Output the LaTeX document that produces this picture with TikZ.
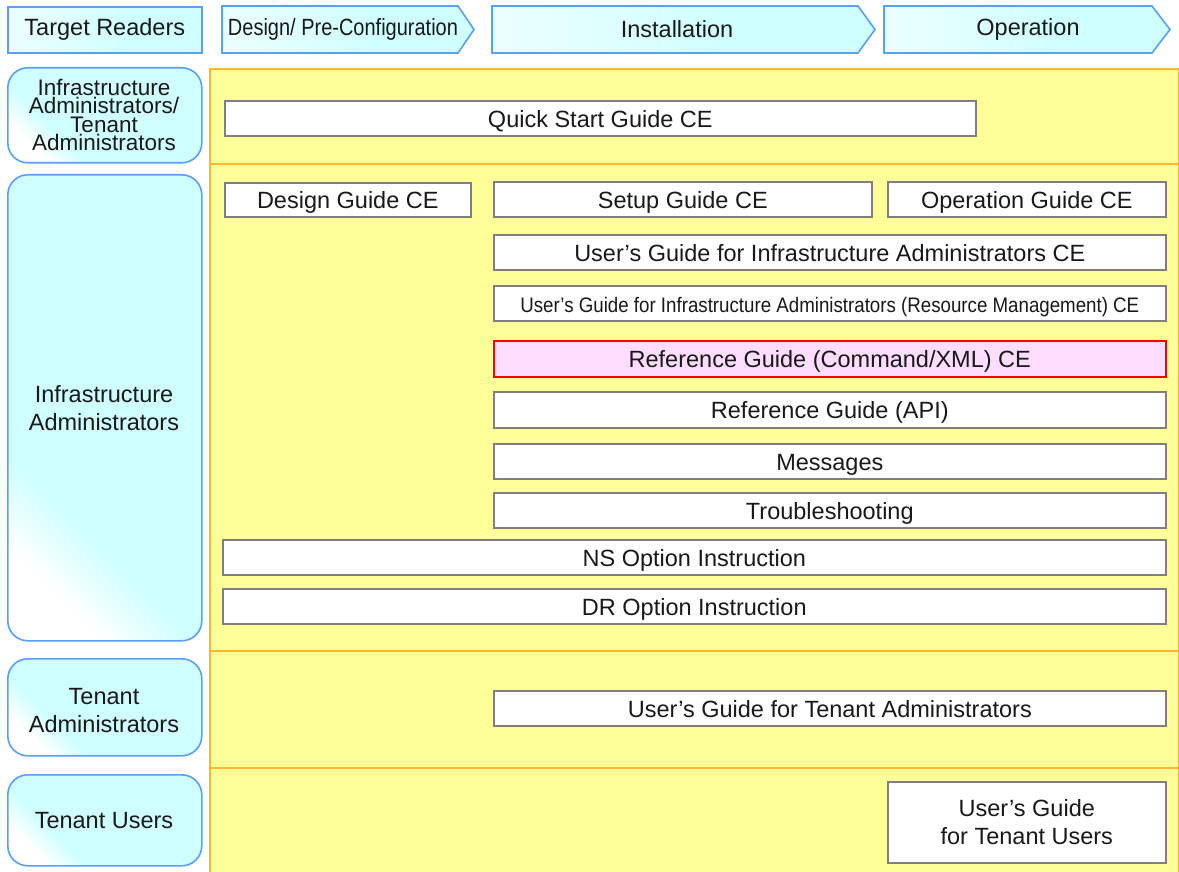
\documentclass[tikz,border=0pt]{standalone}
\usepackage{fontspec}
\setmainfont{Liberation Sans}
\usepackage{graphicx}
\definecolor{cyanL}{RGB}{208,255,255}
\definecolor{blueB}{RGB}{90,160,240}
\definecolor{yellowF}{RGB}{255,255,153}
\definecolor{orangeB}{RGB}{255,182,40}
\definecolor{grayB}{RGB}{128,128,128}
\definecolor{pinkF}{RGB}{255,221,255}
\definecolor{txt}{RGB}{25,25,25}
\pgfdeclarehorizontalshading{leftgrad}{100bp}{color(0bp)=(white); color(25bp)=(white); color(34bp)=(cyanL); color(100bp)=(cyanL)}
\pgfdeclarehorizontalshading{headgrad}{100bp}{color(0bp)=(white); color(25bp)=(white!60!cyanL); color(55bp)=(cyanL); color(100bp)=(cyanL)}
\begin{document}
\begin{tikzpicture}[x=1pt,y=-1pt,
  every node/.style={text=txt},
  mainfont/.style={font=\fontsize{23.5}{28}\selectfont},
  reader/.style={draw=blueB, line width=1.6pt, rounded corners=20pt, shading=leftgrad, shading angle=45, anchor=north west, inner sep=0pt, align=center, mainfont},
  head/.style={draw=blueB, line width=1.6pt, shading=headgrad},
  band/.style={draw=orangeB, line width=1.6pt, fill=yellowF, anchor=north west, inner sep=0pt},
  docbox/.style={draw=grayB, line width=1.6pt, fill=white, anchor=north west, inner sep=0pt, align=center, mainfont},
  doc/.style={docbox, text height=19pt, text depth=1pt},
  hot/.style={doc, draw=red, fill=pinkF},
  lbl/.style={inner sep=0pt, align=center, mainfont}]
\useasboundingbox (0,0) rectangle (1179,872);

% header row
\node[head, anchor=north west, minimum width=194, minimum height=46, inner sep=0pt, mainfont] (tr) at (7,6) {Target Readers};
\path[head] (222,6) -- (458,6) -- (474,29.5) -- (458,53) -- (222,53) -- cycle;
\node[lbl] (hdes) at (343,29.5) {\resizebox{230pt}{\height}{Design/ Pre-Configuration}};
\path[head] (492,6) -- (858,6) -- (875,29.5) -- (858,53) -- (492,53) -- cycle;
\node[lbl] (hins) at (677,29.5) {Installation};
\path[head] (884,6) -- (1152,6) -- (1170,29.5) -- (1152,53) -- (884,53) -- cycle;
\node[lbl] (hop) at (1028,29.5) {Operation};

% bands
\node[band, minimum width=969, minimum height=95] (b1) at (209,68) {};
\node[band, minimum width=969, minimum height=487] (b2) at (209,163) {};
\node[band, minimum width=969, minimum height=117] (b3) at (209,650) {};
\node[band, minimum width=969, minimum height=107] (b4) at (209,767) {};

% readers
\node[reader, minimum width=194, minimum height=95] (r1) at (7,67) {};
\node[lbl, font=\fontsize{22.5}{18.5}\selectfont] (r1t) at (104,115) {Infrastructure\\Administrators/\\Tenant\\Administrators};
\node[reader, minimum width=194, minimum height=466] (r2) at (7,174) {};
\node[lbl] (r2t) at (104,408) {Infrastructure\\Administrators};
\node[reader, minimum width=194, minimum height=97] (r3) at (7,658) {};
\node[lbl] (r3t) at (104,711) {Tenant\\Administrators};
\node[reader, minimum width=194, minimum height=91] (r4) at (7,774) {};
\node[lbl] (r4t) at (104,821) {Tenant Users};

% documents
\node[doc, minimum width=751, minimum height=35] (qs) at (224,100) {Quick Start Guide CE};
\node[doc, minimum width=246, minimum height=34] (dg) at (224,182) {Design Guide CE};
\node[doc, minimum width=378, minimum height=35] (sg) at (493,181) {Setup Guide CE};
\node[doc, minimum width=278, minimum height=35] (og) at (887,181) {Operation Guide CE};
\node[doc, minimum width=672, minimum height=35] (ug) at (493,234) {User’s Guide for Infrastructure Administrators CE};
\node[doc, minimum width=672, minimum height=35] (rm) at (493,285) {\resizebox{619pt}{\height}{\fontsize{21}{24}\selectfont User’s Guide for Infrastructure Administrators (Resource Management) CE}};
\node[hot, minimum width=672, minimum height=36] (rc) at (493,340) {Reference Guide (Command/XML) CE};
\node[doc, minimum width=672, minimum height=36] (ra) at (493,391) {Reference Guide (API)};
\node[doc, minimum width=672, minimum height=35] (ms) at (493,443) {Messages};
\node[doc, minimum width=672, minimum height=35] (ts) at (493,492) {Troubleshooting};
\node[doc, minimum width=943, minimum height=35] (ns) at (222,539) {NS Option Instruction};
\node[doc, minimum width=943, minimum height=35] (dr) at (222,588) {DR Option Instruction};
\node[doc, minimum width=672, minimum height=35] (ta) at (493,690) {User’s Guide for Tenant Administrators};
\node[docbox, minimum width=278, minimum height=81] (tu) at (887,781) {User’s Guide\\for Tenant Users};
\end{tikzpicture}
\end{document}
